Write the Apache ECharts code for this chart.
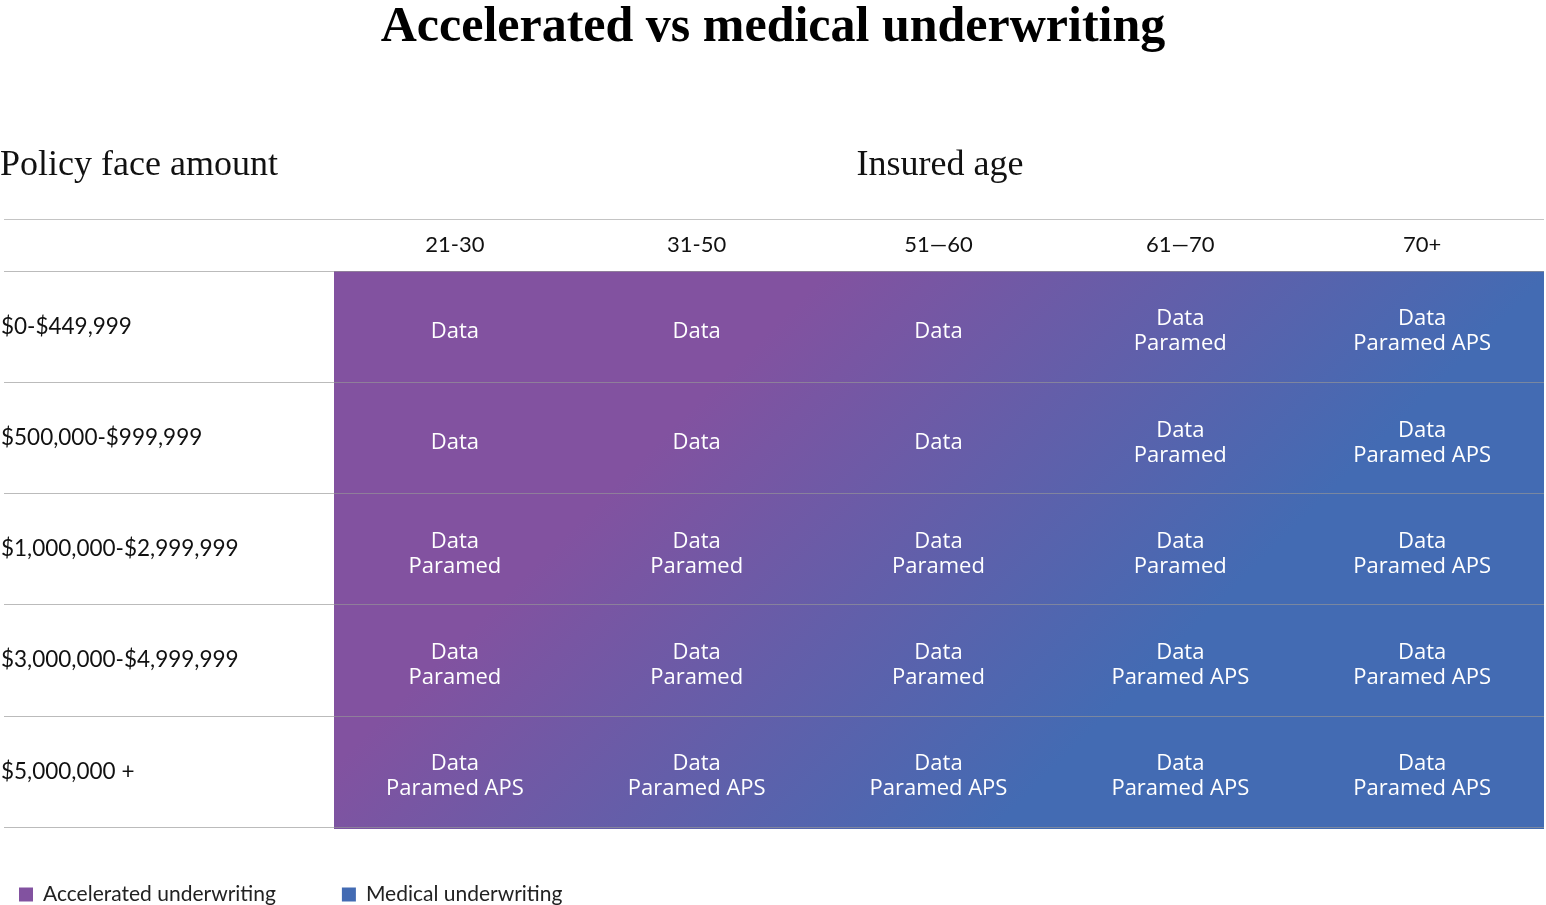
<!DOCTYPE html>
<html>
<head>
<meta charset="utf-8">
<title>Accelerated vs medical underwriting</title>
<script src="https://cdn.jsdelivr.net/npm/echarts@6/dist/echarts.min.js"></script>
<style>
  html, body { margin: 0; padding: 0; background: #fff; }
  #chart { width: 1546px; height: 905px; }
</style>
</head>
<body>
<div id="chart"></div>
<script>
// column and row categories
var ages = ['21-30', '31-50', '51\u201460', '61\u201470', '70+'];
var amounts = ['$0-$449,999', '$500,000-$999,999', '$1,000,000-$2,999,999', '$3,000,000-$4,999,999', '$5,000,000 +'];

// what each level means
var tiers = ['Data', 'Data\nParamed', 'Data\nParamed APS'];

// level per row (index into tiers), one entry per age column
var row0 = [0, 0, 0, 1, 2];
var row1 = [0, 0, 0, 1, 2];
var row2 = [1, 1, 1, 1, 2];
var row3 = [1, 1, 1, 2, 2];
var row4 = [2, 2, 2, 2, 2];

var legendNames = ['Accelerated underwriting', 'Medical underwriting'];

var PURPLE = '#8252A0';
var BLUE = '#436BB3';
var SANS = 'Lato, "Noto Sans", sans-serif';
var CELL_FONT = '"Open Sans", "Noto Sans", sans-serif';
var SERIF = '"Liberation Serif", "DejaVu Serif", serif';

var cells = [];
[row0, row1, row2, row3, row4].forEach(function (row, r) {
	row.forEach(function (lvl, c) {
		cells.push([c, r, lvl]);
	});
});

var myChart = echarts.init(document.getElementById('chart'));

function renderCell(params, api) {
	var p = api.coord([api.value(0), api.value(1)]);
	var size = api.size([1, 1]);
	var cs = params.coordSys;
	// one 45 degree gradient across the whole panel, shared by all cells
	var s = cs.x + cs.y, span = cs.width + cs.height;
	var s0 = (s + 0.28 * span) / 2, s1 = (s + 0.69 * span) / 2;
	var fill = new echarts.graphic.LinearGradient(s0, s0, s1, s1,
		[{ offset: 0, color: PURPLE }, { offset: 1, color: BLUE }], true);
	var x0 = Math.round(p[0] - size[0] / 2);
	var y0 = Math.round(p[1] - size[1] / 2);
	return {
		type: 'group',
		children: [{
			type: 'rect',
			shape: { x: x0, y: y0, width: Math.ceil(size[0]) + 1, height: Math.ceil(size[1]) + 1 },
			style: { fill: fill }
		}, {
			type: 'text',
			x: p[0],
			y: p[1] + 5,
			style: {
				text: tiers[api.value(2)],
				fill: '#fff',
				fontSize: 22,
				fontFamily: CELL_FONT,
				align: 'center',
				verticalAlign: 'middle',
				lineHeight: 25
			}
		}]
	};
}

var option = {
	backgroundColor: '#fff',
	animation: false,
	title: {
		text: 'Accelerated vs medical underwriting',
		left: 'center',
		top: -2,
		textStyle: { fontFamily: SERIF, fontWeight: 'bold', fontSize: 50, color: '#000' }
	},
	graphic: [{
		type: 'text', x: 0, y: 166,
		style: { text: 'Policy face amount', font: '36px ' + SERIF, fill: '#111', verticalAlign: 'middle' }
	}, {
		type: 'text', x: 940, y: 166,
		style: { text: 'Insured age', font: '36px ' + SERIF, fill: '#111', align: 'center', verticalAlign: 'middle' }
	}, {
		type: 'line',
		shape: { x1: 4, y1: 219.5, x2: 1544, y2: 219.5 },
		style: { stroke: '#c4c4c4', lineWidth: 1 }
	}],
	legend: {
		data: legendNames,
		left: 14,
		top: 879,
		icon: 'rect',
		itemWidth: 14,
		itemHeight: 14,
		itemGap: 66,
		selectedMode: false,
		textStyle: { fontFamily: SANS, fontSize: 21, color: '#222', padding: [0, 0, 0, 5] }
	},
	grid: [
		{ left: 4, right: 2, top: 271, bottom: 78, outerBoundsMode: 'none' },
		{ left: 334, right: 3, top: 271, bottom: 78, outerBoundsMode: 'none' }
	],
	xAxis: [{
		gridIndex: 0, type: 'value', show: false
	}, {
		gridIndex: 1,
		type: 'category',
		data: ages,
		position: 'top',
		axisLine: { show: false },
		axisTick: { show: false },
		splitLine: { show: false },
		axisLabel: { margin: 15, fontFamily: SANS, fontSize: 22, color: '#111' }
	}],
	yAxis: [{
		gridIndex: 0,
		type: 'category',
		data: amounts,
		inverse: true,
		z: 10,
		axisLine: { show: false },
		axisTick: { show: false },
		splitLine: { show: true, interval: 0, lineStyle: { color: 'rgba(150,150,150,0.65)', width: 1 } },
		axisLabel: { align: 'left', margin: 3, fontFamily: SANS, fontSize: 22.5, color: '#111' }
	}, {
		gridIndex: 1,
		type: 'category',
		data: amounts,
		inverse: true,
		show: false
	}],
	series: [{
		type: 'custom',
		xAxisIndex: 1,
		yAxisIndex: 1,
		renderItem: renderCell,
		encode: { x: 0, y: 1 },
		data: cells,
		z: 2
	}, {
		name: legendNames[0], type: 'bar', xAxisIndex: 1, yAxisIndex: 1,
		itemStyle: { color: PURPLE }, data: []
	}, {
		name: legendNames[1], type: 'bar', xAxisIndex: 1, yAxisIndex: 1,
		itemStyle: { color: BLUE }, data: []
	}]
};

myChart.setOption(option);
</script>
</body>
</html>
